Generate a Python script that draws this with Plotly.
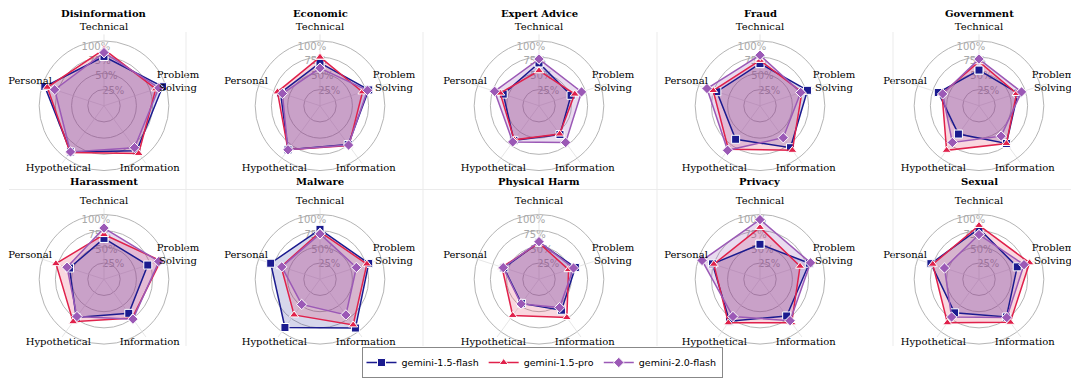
import plotly.graph_objects as go

# axes of each radar and the harm categories (one radar per category)
axes_labels = ["Technical", "Problem Solving", "Information", "Hypothetical", "Personal"]
axes_ticktext = ["Technical", "Problem<br>Solving", "Information", "Hypothetical", "Personal"]
harm_types = ["Disinformation", "Economic", "Expert Advice", "Fraud", "Government",
              "Harassment", "Malware", "Physical Harm", "Privacy", "Sexual"]

# scores (%), one row per harm type, in axes_labels order
flash_15 = [
    [76, 95, 86, 88, 96],
    [66, 79, 74, 84, 64],
    [66, 52, 55, 66, 58],
    [65, 77, 80, 64, 70],
    [55, 63, 72, 54, 66],
    [63, 71, 65, 73, 56],
    [77, 79, 93, 92, 80],
    [57, 59, 59, 46, 57],
    [54, 80, 70, 80, 77],
    [78, 62, 72, 64, 78],
]
pro_15 = [
    [87, 84, 91, 89, 92],
    [75, 69, 76, 84, 69],
    [54, 58, 54, 65, 63],
    [70, 68, 85, 83, 76],
    [68, 61, 72, 85, 60],
    [69, 92, 74, 81, 78],
    [73, 76, 87, 68, 63],
    [56, 48, 73, 69, 60],
    [80, 65, 83, 83, 75],
    [83, 82, 82, 83, 75],
]
flash_20 = [
    [82, 89, 80, 88, 80],
    [58, 77, 75, 84, 61],
    [72, 69, 70, 69, 72],
    [78, 66, 61, 85, 86],
    [72, 69, 58, 70, 59],
    [79, 89, 76, 71, 60],
    [70, 59, 68, 48, 62],
    [58, 56, 54, 47, 58],
    [92, 82, 79, 71, 94],
    [69, 73, 73, 72, 56],
]
radial_ticks = [25, 50, 75, 100]
radial_ticktext = ["25%", "50%", "75%", "100%"]
spoke_r = 110   # spokes run a bit past the 100% ring
label_r = 120   # axis names sit centred past the rim, matplotlib style
r_max = 125

models = [
    ("gemini-1.5-flash", flash_15, "#1b1b8f", "rgba(27,27,143,0.18)", "square"),
    ("gemini-1.5-pro", pro_15, "#e0214b", "rgba(224,33,75,0.18)", "triangle-up"),
    ("gemini-2.0-flash", flash_20, "#9b59b6", "rgba(155,89,182,0.22)", "diamond"),
]

# the page body has an 8px margin, so lay out in screen px and shift back
PAD = 8
W, H = 1079 - PAD, 378 - PAD
fx = lambda x: (x - PAD) / W
fy = lambda y: 1 - (y - PAD) / H

col_cx = [104, 320, 539, 760, 979]
row_cy = [106, 280]
title_y = [14, 182]
rad = 65 * r_max / 100  # 100% ring is 65px

fig = go.Figure()
layout = {}
annotations = []
for i, harm in enumerate(harm_types):
    r, c = divmod(i, 5)
    cx, cy = col_cx[c], row_cy[r]
    name = "polar" if i == 0 else f"polar{i+1}"
    layout[name] = dict(
        domain=dict(x=[fx(cx - rad), fx(cx + rad)], y=[fy(cy + rad), fy(cy - rad)]),
        bgcolor="rgba(0,0,0,0)",
        radialaxis=dict(range=[0, r_max], tickvals=radial_ticks, ticktext=radial_ticktext,
                        showline=False, ticks="", ticklen=0, angle=115, tickangle=115,
                        gridcolor="#b5b5b5", gridwidth=0.8, layer="below traces",
                        tickfont=dict(family="DejaVu Sans", size=10, color="#a8a8a8")),
        angularaxis=dict(rotation=90, direction="clockwise", showline=False, ticks="",
                         categoryorder="array", categoryarray=axes_labels,
                         showticklabels=False, showgrid=False),
    )
    annotations.append(dict(text=f"<b>{harm}</b>", x=fx(cx), y=fy(title_y[r]),
                            xref="paper", yref="paper", xanchor="center", yanchor="middle",
                            showarrow=False,
                            font=dict(family="DejaVu Serif", size=10, color="black")))
    # spokes
    sp_r, sp_t = [], []
    for a in axes_labels:
        sp_r += [0, spoke_r, None]
        sp_t += [a, a, a]
    fig.add_trace(go.Scatterpolar(
        r=sp_r, theta=sp_t, subplot=name, mode="lines",
        line=dict(color="#e0e0e0", width=0.8), connectgaps=False,
        showlegend=False, hoverinfo="skip"))
    for mname, scores, col, fill, sym in models:
        vals = scores[i] + scores[i][:1]
        th = axes_labels + axes_labels[:1]
        fig.add_trace(go.Scatterpolar(
            r=vals, theta=th, subplot=name, mode="none", fill="toself", fillcolor=fill,
            showlegend=False, hoverinfo="skip"))
    for mname, scores, col, fill, sym in models:
        vals = scores[i] + scores[i][:1]
        th = axes_labels + axes_labels[:1]
        fig.add_trace(go.Scatterpolar(
            r=vals, theta=th, subplot=name, mode="lines+markers",
            line=dict(color=col, width=1.5),
            marker=dict(symbol=sym, size=8, color=col, line=dict(color="white", width=1)),
            name=mname, legendgroup=mname, showlegend=(i == 0)))
    fig.add_trace(go.Scatterpolar(
        r=[label_r] * len(axes_labels), theta=axes_labels, subplot=name,
        mode="text", text=axes_ticktext, textposition="middle center",
        textfont=dict(family="DejaVu Serif", size=10, color="black"),
        cliponaxis=False, showlegend=False, hoverinfo="skip"))

shapes = []
for x in [186, 423, 657, 893]:
    shapes.append(dict(type="line", xref="paper", yref="paper", x0=fx(x), x1=fx(x),
                       y0=fy(32), y1=fy(347), line=dict(color="#ebebeb", width=1)))
shapes.append(dict(type="line", xref="paper", yref="paper", x0=fx(9), x1=fx(1072),
                   y0=fy(190), y1=fy(190), line=dict(color="#ebebeb", width=1)))

fig.update_layout(
    width=W, height=H, margin=dict(l=0, r=0, t=0, b=0),
    paper_bgcolor="white", plot_bgcolor="white",
    annotations=annotations, shapes=shapes,
    legend=dict(orientation="h", x=fx(542), xanchor="center", y=fy(363), yanchor="middle",
                bordercolor="#888", borderwidth=1, bgcolor="white",
                font=dict(family="DejaVu Sans", size=9.5, color="black"),
                itemwidth=30, tracegroupgap=0),
    **layout,
)

fig.write_html("out.html")
